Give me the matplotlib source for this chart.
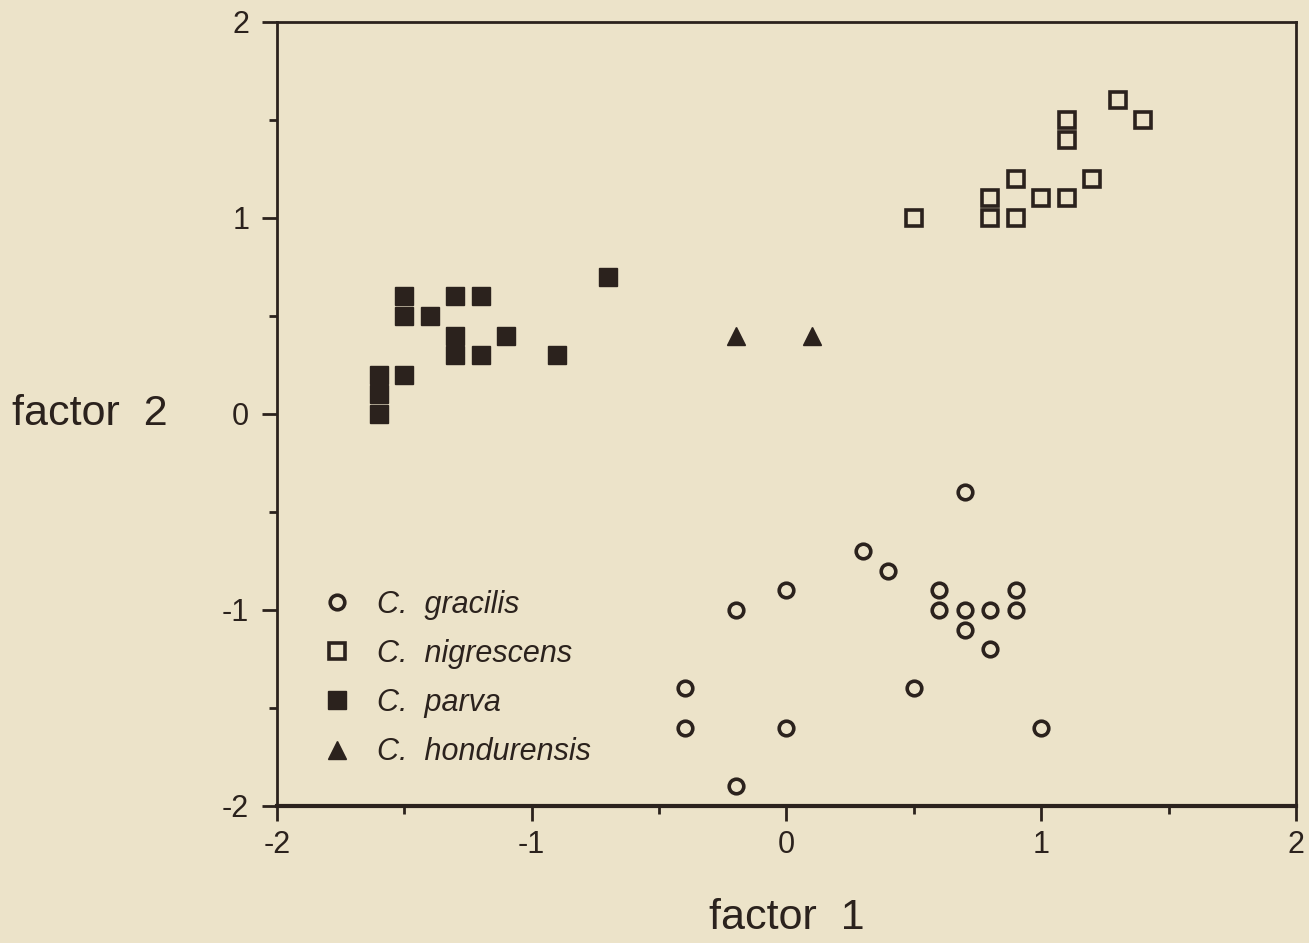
import matplotlib.pyplot as plt
from matplotlib.ticker import MultipleLocator

plt.rcParams['font.family'] = ['Liberation Sans', 'DejaVu Sans']
plt.rcParams['axes.unicode_minus'] = False

# C. gracilis (open circles)
gracilis_x = [0.7, 0.3, 0.4, 0.0, -0.2, 0.6, 0.9, 0.6, 0.7, 0.8, 0.9, 0.7, 0.8,
              -0.4, 0.5, -0.4, 0.0, 1.0, -0.2]
gracilis_y = [-0.4, -0.7, -0.8, -0.9, -1.0, -0.9, -0.9, -1.0, -1.0, -1.0, -1.0,
              -1.1, -1.2, -1.4, -1.4, -1.6, -1.6, -1.6, -1.9]

# C. nigrescens (open squares)
nigrescens_x = [0.5, 0.8, 0.8, 0.9, 0.9, 1.0, 1.1, 1.1, 1.1, 1.2, 1.3, 1.4]
nigrescens_y = [1.0, 1.1, 1.0, 1.2, 1.0, 1.1, 1.1, 1.4, 1.5, 1.2, 1.6, 1.5]

# C. parva (filled squares)
parva_x = [-0.7, -1.5, -1.5, -1.4, -1.3, -1.2, -1.3, -1.3, -1.2, -1.1, -0.9,
           -1.6, -1.5, -1.6, -1.6]
parva_y = [0.7, 0.6, 0.5, 0.5, 0.6, 0.6, 0.4, 0.3, 0.3, 0.4, 0.3,
           0.2, 0.2, 0.1, 0.0]

# C. hondurensis (filled triangles)
hond_x = [-0.2, 0.1]
hond_y = [0.4, 0.4]

bg = '#ece3c9'
ink = '#2b221d'

fig = plt.figure(figsize=(13.09, 9.43), dpi=100, facecolor=bg)
ax = fig.add_axes([0.2116, 0.1453, 0.7784, 0.8314], facecolor=bg)

ax.plot(gracilis_x, gracilis_y, 'o', ls='none', ms=10.5, mew=2.6,
        mfc='none', mec=ink, label='C.  gracilis')
ax.plot(nigrescens_x, nigrescens_y, 's', ls='none', ms=11.5, mew=2.6,
        mfc='none', mec=ink, label='C.  nigrescens')
ax.plot(parva_x, parva_y, 's', ls='none', ms=12.5, mew=1,
        mfc=ink, mec=ink, label='C.  parva')
ax.plot(hond_x, hond_y, '^', ls='none', ms=13, mew=1,
        mfc=ink, mec=ink, label='C.  hondurensis')

ax.set_xlim(-2, 2)
ax.set_ylim(-2, 2)
ax.xaxis.set_major_locator(MultipleLocator(1))
ax.xaxis.set_minor_locator(MultipleLocator(0.5))
ax.yaxis.set_major_locator(MultipleLocator(1))
ax.yaxis.set_minor_locator(MultipleLocator(0.5))

for s in ax.spines.values():
    s.set_color(ink)
    s.set_linewidth(2)
ax.spines['bottom'].set_linewidth(3)

ax.tick_params(which='major', direction='out', length=11, width=2,
               color=ink, labelsize=22, labelcolor=ink)
ax.tick_params(which='minor', direction='out', length=6, width=2, color=ink)
ax.tick_params(axis='x', which='major', pad=6)
ax.tick_params(axis='y', which='major', pad=9)

ax.set_xlabel('factor  1', fontsize=31, color=ink, labelpad=28)
ax.set_ylabel('factor  2', fontsize=31, color=ink, rotation=0,
              ha='right', va='center', labelpad=39)

leg = ax.legend(loc='upper left', bbox_to_anchor=(0.017, 0.311),
                frameon=False, handlelength=1.0,
                handletextpad=0.8, labelspacing=0.63,
                prop={'style': 'italic', 'size': 22})
for t in leg.get_texts():
    t.set_color(ink)

fig.savefig('out.png', dpi=100, facecolor=bg)
